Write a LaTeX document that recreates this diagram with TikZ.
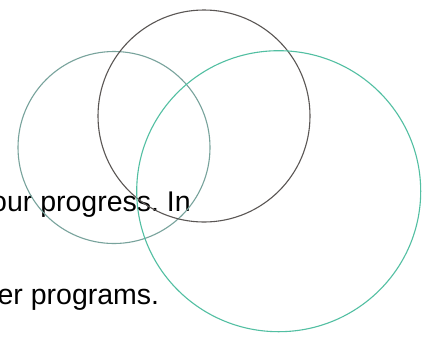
\documentclass[tikz,border=0pt]{standalone}
\usepackage{fontspec}
\setmainfont{Liberation Sans}
\definecolor{leftc}{HTML}{78A39C}
\definecolor{rightc}{HTML}{52BFA2}
\definecolor{darkc}{HTML}{5A5654}
\tikzset{
  txt/.style={inner sep=0pt, anchor=base east, font=\fontsize{28.5}{34}\selectfont\frenchspacing, text=black},
  ring/.style={line width=1.1pt}
}
\begin{document}
\begin{tikzpicture}[x=1pt,y=-1pt]
\useasboundingbox (0,0) rectangle (425,338);
\clip (0,0) rectangle (425,338);
\fill[white] (0,0) rectangle (425,338);
\node[txt] (l1) at (191,211.5) {our progress. In};
\node[txt] (l2) at (159.4,304) {er programs.};
\draw[ring, leftc] (114,147.5) circle (96);
\draw[ring, darkc] (204,116) circle (106);
\draw[ring, rightc] (278.7,191.2) ellipse [x radius=142, y radius=140.5];
\end{tikzpicture}
\end{document}
